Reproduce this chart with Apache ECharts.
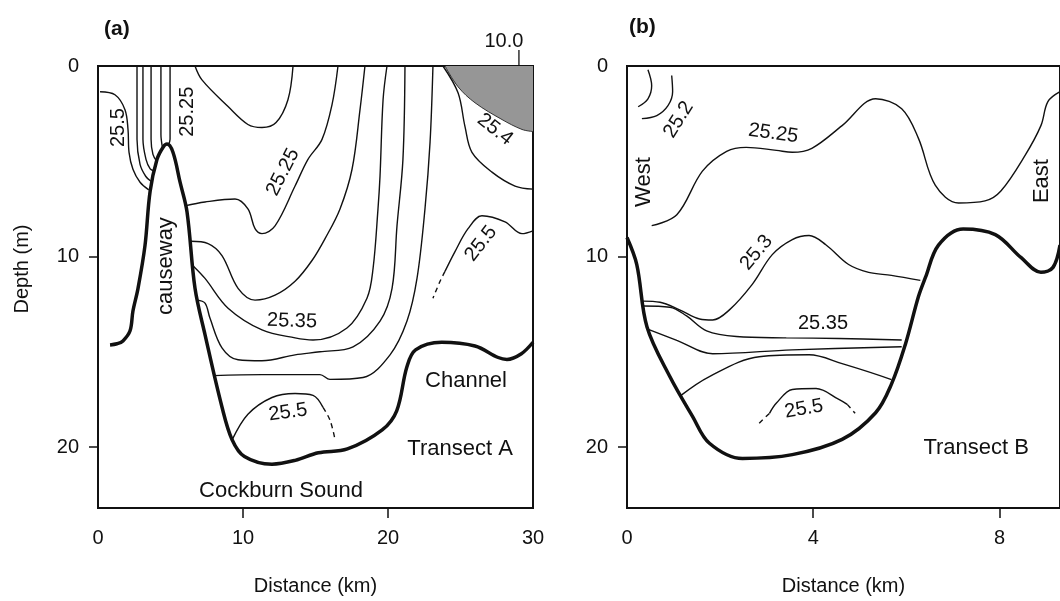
<!DOCTYPE html>
<html>
<head>
<meta charset="utf-8">
<script src="https://cdn.jsdelivr.net/npm/echarts@6/dist/echarts.min.js"></script>
<style>
  html, body { margin: 0; background: #fff; }
  #chart { width: 1060px; height: 601px; }
</style>
</head>
<body>
<div id="chart"></div>
<script>
// ---- Transect A (distance km, depth m) ----
const bottomA = [[0.83, 14.64], [1.31, 14.58], [1.72, 14.43], [2.21, 13.9], [2.41, 12.86], [2.76, 11.67], [3.24, 9.43], [3.59, 6.6], [4.07, 4.9], [4.5, 4.25], [4.76, 4.1], [5.17, 4.53], [5.66, 6.1], [6.14, 7.66], [6.69, 11.67], [7.38, 14.1], [8.55, 17.9], [9.24, 19.6], [10.1, 20.5], [12.0, 20.9], [13.6, 20.7], [15.2, 20.3], [17.2, 20.1], [19.6, 19.1], [20.6, 18.1], [21.3, 15.8], [21.9, 14.9], [23.7, 14.5], [26.0, 14.7], [27.6, 15.3], [28.2, 15.4], [29.2, 15.1], [30, 14.5]];

// west of the causeway
const a255West = [[0.14, 1.35], [1.17, 1.51], [1.86, 2.29], [2.07, 3.33], [2.14, 4.53], [2.41, 5.42], [2.9, 6.1], [3.5, 6.5]];
const aWest1 = [[2.69, 0], [2.69, 3.85], [2.9, 5.16], [3.3, 5.8], [3.65, 6.05]];
const aWest2 = [[3.1, 0], [3.1, 3.85], [3.31, 4.9], [3.6, 5.4], [3.85, 5.5]];
const aWest3 = [[3.66, 0], [3.66, 3.85], [3.79, 4.64], [4.05, 5.0]];
const aWest4 = [[4.34, 0], [4.34, 3.6], [4.45, 4.3]];
const a2525Cw = [[4.97, 0], [4.97, 3.85], [4.85, 4.15]];

// east of the causeway
const a2525Top = [[6.69, 0], [7.17, 0.73], [8.97, 2.13], [10.34, 3.07], [11.31, 3.23], [12.28, 2.97], [13.1, 1.77], [13.45, 0]];
const a2525 = [[6.0, 7.34], [7.38, 7.14], [9.45, 6.98], [10.34, 7.5], [10.83, 8.54], [11.31, 8.8], [12.21, 8.39], [13.59, 6.3], [14.48, 4.9], [15.45, 3.85], [16.14, 2.03], [16.55, 0]];
const a253 = [[6.4, 9.2], [7.59, 9.32], [8.55, 9.95], [9.66, 11.67], [10.83, 12.29], [12.21, 12.03], [13.59, 11.3], [14.76, 10.21], [15.66, 9.06], [16.69, 7.5], [17.52, 5.42], [18.07, 2.29], [18.41, 0]];
const a2535 = [[6.6, 10.52], [7.38, 11.15], [8.97, 12.71], [11.31, 13.85], [13.59, 14.27], [14.83, 14.38], [17.17, 13.75], [18.55, 12.19], [18.97, 10.63], [19.31, 7.5], [19.45, 5.78], [19.66, 1.77], [19.93, 0]];
const a254 = [[6.83, 12.29], [7.38, 12.45], [7.72, 13.23], [8.55, 14.79], [9.66, 15.42], [11.31, 15.47], [13.59, 15.16], [15.31, 15.0], [17.59, 14.74], [19.45, 13.39], [20.28, 11.67], [20.62, 8.39], [21.03, 4.9], [21.17, 0]];
const a2545 = [[7.95, 16.25], [11.31, 16.2], [15.31, 16.2], [16.0, 16.45], [18.28, 16.35], [20.14, 15.16], [21.31, 13.39], [22.0, 11.15], [22.55, 7.5], [22.9, 4.01], [23.1, 0]];
const a255Low = [[9.24, 19.64], [10.34, 18.28], [12.0, 17.4], [13.59, 17.19], [14.83, 17.29], [15.52, 17.92]];
const a255LowDash = [[15.52, 17.92], [16.0, 18.59], [16.34, 19.58]];
const a254East = [[23.79, 0], [24.83, 1.41], [25.31, 3.18], [25.79, 4.53], [27.17, 5.57], [28.76, 6.3], [30, 6.46]];
const a255East = [[30, 8.65], [29.24, 8.8], [28.07, 8.18], [26.48, 7.86], [25.52, 8.54], [24.62, 9.74], [23.93, 10.78]];
const a255EastDash = [[23.93, 10.78], [23.59, 11.3], [23.1, 12.19]];
const aShade = [[23.93, 0], [24.83, 1.09], [26.0, 1.93], [27.86, 2.81], [29.24, 3.33], [30, 3.44]];
const aShadeTagX = 29.03;

// text on panel a: [x, y, text, rotate, size]
const labelsA = [
  [1.38, 3.23, '25.5', 90, 20],
  [6.14, 2.4, '25.25', 90, 20],
  [12.76, 5.57, '25.25', 63, 20],
  [27.38, 3.33, '25.4', -38, 20],
  [26.41, 9.32, '25.5', 52, 20],
  [13.38, 13.39, '25.35', -2, 20],
  [13.1, 18.18, '25.5', 8, 20],
  [4.69, 10.5, 'causeway', 90, 22],
  [25.38, 16.51, 'Channel', 0, 22],
  [24.97, 20.1, 'Transect A', 0, 22],
  [12.62, 22.3, 'Cockburn Sound', 0, 22]
];

// ---- Transect B ----
const bottomB = [[0, 9.0], [0.21, 10.42], [0.43, 13.7], [0.92, 16.3], [1.41, 18.4], [1.77, 19.8], [2.48, 20.6], [3.55, 20.4], [4.62, 19.6], [5.34, 18.2], [5.68, 16.7], [5.98, 14.6], [6.26, 12.1], [6.41, 11.1], [6.69, 9.4], [7.22, 8.55], [7.91, 8.85], [8.46, 10.05], [8.89, 10.83], [9.15, 10.57], [9.3, 9.4]];
const b252a = [[0.45, 0.2], [0.53, 1.04], [0.45, 1.72], [0.24, 2.14]];
const b252b = [[0.96, 0.5], [0.98, 1.35], [0.88, 2.08], [0.64, 2.6], [0.32, 2.76]];
const b2525 = [[0.53, 8.38], [1.07, 7.81], [1.62, 5.52], [2.14, 4.48], [2.56, 4.27], [3.21, 4.43], [3.55, 4.53], [3.97, 4.32], [4.62, 3.13], [5.34, 1.72], [5.9, 2.24], [6.26, 3.8], [6.62, 6.25], [7.12, 7.19], [7.69, 7.08], [8.03, 6.56], [8.55, 4.69], [8.89, 3.13], [9.04, 1.87], [9.3, 1.35]];
const b253 = [[0.34, 12.34], [0.71, 12.4], [1.13, 12.8], [1.56, 13.28], [1.84, 13.33], [2.2, 12.8], [2.69, 11.46], [3.12, 9.9], [3.55, 9.11], [3.91, 8.9], [4.27, 9.38], [4.76, 10.42], [5.19, 10.83], [5.68, 10.99], [6.3, 11.25]];
const b2535 = [[0.34, 12.6], [0.92, 12.66], [1.28, 13.12], [1.71, 13.9], [2.35, 14.2], [3.42, 14.27], [4.55, 14.3], [5.9, 14.38]];
const b254 = [[0.43, 13.8], [1.07, 14.4], [1.84, 15.1], [3.55, 14.9], [5.9, 14.74]];
const b2545 = [[1.13, 17.34], [1.77, 16.3], [2.84, 15.26], [3.91, 15.16], [4.62, 15.62], [5.68, 16.46]];
const b255 = [[3.06, 18.23], [3.21, 17.69], [3.55, 16.98], [4.06, 16.93], [4.55, 17.5], [4.73, 17.76]];
const b255DashL = [[2.84, 18.75], [3.06, 18.23]];
const b255DashR = [[4.73, 17.76], [4.9, 18.23]];

const labelsB = [
  [0.36, 6.09, 'West', 90, 22],
  [8.91, 6.04, 'East', 90, 22],
  [1.11, 2.81, '25.2', 58, 20],
  [3.14, 3.54, '25.25', -8, 20],
  [2.78, 9.79, '25.3', 50, 20],
  [4.21, 13.54, '25.35', 0, 20],
  [3.8, 18.0, '25.5', 10, 20],
  [7.5, 20.05, 'Transect B', 0, 22]
];

const xTicksA = [0, 10, 20, 30];
const xTicksB = [0, 4, 8];
const yTicks = [0, 10, 20];

const FONT = '"Liberation Sans", Arial, Helvetica, sans-serif';
const INK = '#111';

const chart = echarts.init(document.getElementById('chart'));

// 画线的小工具
const line = (data, panel, width, dashed) => ({
  type: 'line',
  xAxisIndex: panel,
  yAxisIndex: panel,
  data,
  smooth: 0.35,
  symbol: 'none',
  silent: true,
  lineStyle: { color: INK, width, type: dashed ? [5, 4] : 'solid' }
});

const textSeries = (labels, panel) => ({
  type: 'scatter',
  xAxisIndex: panel,
  yAxisIndex: panel,
  symbolSize: 0,
  silent: true,
  z: 10,
  itemStyle: { opacity: 1 },
  data: labels.map(l => ({
    value: [l[0], l[1]],
    name: l[2],
    label: { rotate: l[3], fontSize: l[4] }
  })),
  label: {
    show: true,
    position: 'inside',
    formatter: p => p.name,
    color: INK,
    fontFamily: FONT,
    align: 'center',
    verticalAlign: 'middle'
  }
});

const tickStyle = { color: INK, width: 1.5 };

const xAxis = (gridIndex, max, labels) => ({
  type: 'value',
  gridIndex,
  position: 'bottom',
  min: 0,
  max,
  splitLine: { show: false },
  axisLine: { show: true, onZero: false, lineStyle: { color: INK, width: 2 } },
  axisTick: { show: true, customValues: labels.slice(1).filter(v => v < max), length: 10, lineStyle: tickStyle },
  axisLabel: { customValues: labels, margin: 20, color: INK, fontSize: 20, fontFamily: FONT },
  name: 'Distance (km)',
  nameLocation: 'middle',
  nameGap: 68,
  nameTextStyle: { color: INK, fontSize: 20, fontFamily: FONT }
});

const yAxis = gridIndex => ({
  type: 'value',
  gridIndex,
  position: 'left',
  inverse: true,
  min: 0,
  max: 23.2,
  splitLine: { show: false },
  axisLine: { show: true, onZero: false, lineStyle: { color: INK, width: 2 } },
  axisTick: { show: true, customValues: [10, 20], length: 9, lineStyle: tickStyle },
  axisLabel: { customValues: yTicks, margin: 19, color: INK, fontSize: 20, fontFamily: FONT }
});

const grid = left => ({
  left, top: 66, width: 435, height: 446,
  show: true, borderColor: INK, borderWidth: 2, backgroundColor: 'transparent'
});

const option = {
  backgroundColor: '#fff',
  animation: false,
  title: [
    { text: '(a)', left: 99, top: 14, textStyle: { fontSize: 21, fontWeight: 'bold', color: INK, fontFamily: FONT } },
    { text: '(b)', left: 624, top: 12, textStyle: { fontSize: 21, fontWeight: 'bold', color: INK, fontFamily: FONT } }
  ],
  grid: [grid(98), grid(627)],
  xAxis: [xAxis(0, 30, xTicksA), xAxis(1, 9.3, xTicksB)],
  yAxis: [yAxis(0), yAxis(1)],
  series: [
    // shaded patch top right of transect A
    {
      type: 'line', xAxisIndex: 0, yAxisIndex: 0, data: aShade, smooth: 0.35,
      symbol: 'none', silent: true,
      lineStyle: { color: '#333', width: 1 },
      areaStyle: { color: '#969696', opacity: 1, origin: 'start' }
    },
    line(bottomA, 0, 3.5),
    line(a255West, 0, 1.4), line(aWest1, 0, 1.4), line(aWest2, 0, 1.4),
    line(aWest3, 0, 1.4), line(aWest4, 0, 1.4), line(a2525Cw, 0, 1.4),
    line(a2525Top, 0, 1.4), line(a2525, 0, 1.4), line(a253, 0, 1.4),
    line(a2535, 0, 1.4), line(a254, 0, 1.4), line(a2545, 0, 1.4),
    line(a255Low, 0, 1.4), line(a255LowDash, 0, 1.4, true),
    line(a254East, 0, 1.4), line(a255East, 0, 1.4), line(a255EastDash, 0, 1.4, true),
    textSeries(labelsA, 0),

    line(bottomB, 1, 3.5),
    line(b252a, 1, 1.4), line(b252b, 1, 1.4), line(b2525, 1, 1.4),
    line(b253, 1, 1.4), line(b2535, 1, 1.4), line(b254, 1, 1.4), line(b2545, 1, 1.4),
    line(b255, 1, 1.4), line(b255DashL, 1, 1.4, true), line(b255DashR, 1, 1.4, true),
    textSeries(labelsB, 1)
  ]
};

chart.setOption(option);

// "10.0" tag and the depth title, placed from the axes
const tag = chart.convertToPixel({ gridIndex: 0 }, [aShadeTagX, 0]);
chart.setOption({
  graphic: [
    { type: 'line', shape: { x1: tag[0], y1: tag[1] - 16, x2: tag[0], y2: tag[1] }, style: { stroke: INK, lineWidth: 1.3 } },
    { type: 'text', x: tag[0] - 15, y: tag[1] - 25, style: { text: '10.0', fill: INK, font: '20px ' + FONT, textAlign: 'center', textVerticalAlign: 'middle' } },
    { type: 'text', x: 22, y: 269, rotation: Math.PI / 2, style: { text: 'Depth (m)', fill: INK, font: '20px ' + FONT, textAlign: 'center', textVerticalAlign: 'middle' } }
  ]
});
</script>
</body>
</html>
